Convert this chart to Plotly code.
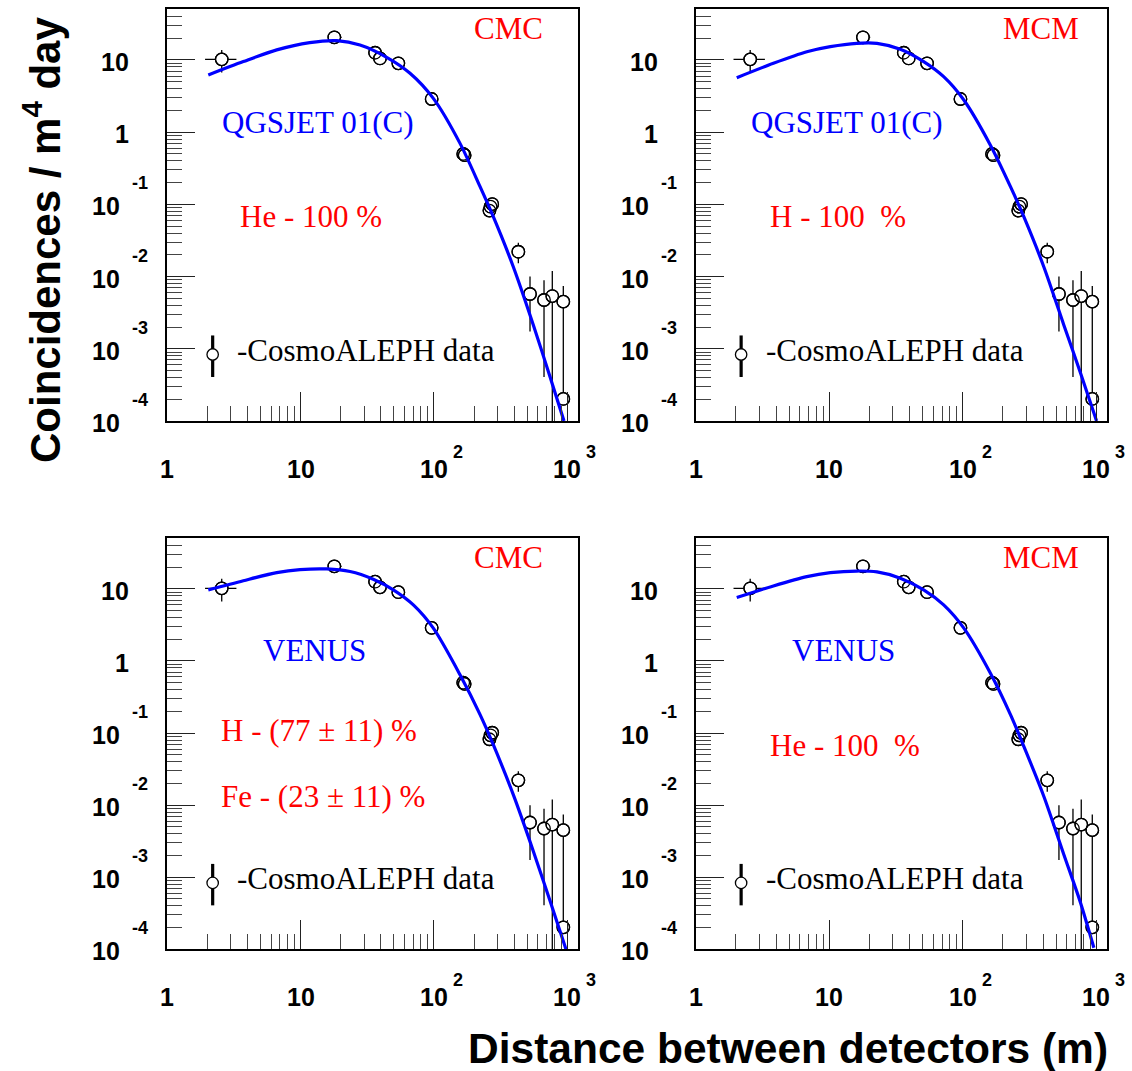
import math
import plotly.graph_objects as go

W, H = 1132, 1071

# ---------------- data (same CosmoALEPH points in every panel) ----------------
dist = [2.56, 17.9, 36.2, 39.4, 54.1, 96.2, 166, 170, 261, 266, 274, 430, 526, 670, 773, 935, 935]
dist_lo = [1.92, 16.1, 34.5, 39.4, 52.5, 96.2, 166, 170, 261, 266, 274, 430, 526, 670, 773, 935, 935]
dist_hi = [3.30, 20.3, 36.2, 39.4, 54.1, 96.2, 166, 170, 261, 266, 274, 430, 526, 670, 773, 935, 935]
rate = [10.2, 20.6, 12.6, 10.5, 9.0, 2.88, 0.50, 0.48, 0.082, 0.093, 0.101,
        0.0221, 0.00574, 0.00474, 0.00538, 0.0045, 2.02e-4]
rate_lo = [6.7, 19.6, 12.1, 10.1, 8.7, 2.78, 0.48, 0.46, 0.079, 0.090, 0.098,
           0.0153, 0.00173, 4.07e-4, 5e-5, 2.1e-4, 2.02e-4]
rate_hi = [13.8, 21.8, 13.1, 10.9, 9.3, 2.98, 0.52, 0.50, 0.085, 0.096, 0.104,
           0.0295, 0.0100, 0.0089, 0.0120, 0.0074, 2.02e-4]

# ---------------- simulated curves ----------------
qgs_cmc_x = [2.03, 3.72, 6.62, 11.7, 18.7, 27.9, 44.2, 66.2, 99, 157, 222, 279, 394, 557, 743, 946]
qgs_cmc_y = [6.2, 9.5, 13.8, 17.4, 18.5, 16.1, 10.9, 6.55, 2.94, 0.70, 0.176, 0.0676, 0.0137, 0.00214, 4.1e-4, 1.0e-4]

qgs_mcm_x = [2.03, 3.82, 6.8, 10.2, 16.1, 22.8, 34.1, 51, 72, 102, 161, 228, 287, 405, 572, 764, 1007]
qgs_mcm_y = [5.69, 9.0, 13.0, 15.3, 17.0, 17.0, 14.1, 9.5, 5.87, 2.79, 0.665, 0.176, 0.0676, 0.0137, 0.00214, 4.6e-4, 1.0e-4]

ven_cmc_x = [2.03, 3.72, 6.62, 9.9, 15.7, 23.5, 35.1, 49.6, 70.1, 99, 157, 222, 279, 394, 557, 743, 979]
ven_cmc_y = [9.7, 13.0, 16.8, 18.5, 18.9, 17.4, 13.6, 9.7, 6.0, 2.85, 0.644, 0.18, 0.069, 0.014, 0.0023, 4.7e-4, 1.0e-4]

ven_mcm_x = [2.03, 3.82, 6.8, 10.2, 16.1, 22.8, 34.1, 51, 72, 102, 161, 228, 287, 405, 572, 764, 961]
ven_mcm_y = [7.6, 11.0, 14.8, 16.8, 17.7, 17.2, 14.1, 9.7, 6.0, 2.85, 0.68, 0.18, 0.0655, 0.0133, 0.00207, 4.4e-4, 1.05e-4]

curves_x = [qgs_cmc_x, qgs_mcm_x, ven_cmc_x, ven_mcm_x]
curves_y = [qgs_cmc_y, qgs_mcm_y, ven_cmc_y, ven_mcm_y]

method_labels = ["CMC", "MCM", "CMC", "MCM"]
model_labels = ["QGSJET 01(C)", "QGSJET 01(C)", "VENUS", "VENUS"]
comp_labels = [["He - 100 %"], ["H - 100\u00a0\u00a0%"],
               ["H - (77 \u00b1 11) %", "Fe - (23 \u00b1 11) %"], ["He - 100\u00a0\u00a0%"]]
legend_label = "-CosmoALEPH data"

x_major = [1, 10, 100, 1000]
x_major_exp = [None, None, "2", "3"]
x_major_txt = ["1", "10", "10", "10"]
y_major = [1e-4, 1e-3, 1e-2, 1e-1, 1, 10]
y_major_txt = ["10", "10", "10", "10", "1", "10"]
y_major_exp = ["-4", "-3", "-2", "-1", None, None]

x_minor = [m * 10 ** d for d in range(0, 3) for m in range(2, 10)]
y_minor = [m * 10 ** d for d in range(-4, 2) for m in range(2, 10)]

# ---------------- layout geometry ----------------
col_dom = [[167.3 / W, 578.0 / W], [695.7 / W, 1107.0 / W]]
row_dom = [[1 - 421.0 / H, 1 - 9.3 / H], [1 - 949.3 / H, 1 - 538.3 / H]]
PW, PH = 411.0, 411.5

SERIF = "Liberation Serif, Times New Roman, serif"
SANS = "Liberation Sans, Arial, sans-serif"
RED = "#ff0000"
BLUE = "#0000ff"

fig = go.Figure()
annotations = []
shapes = []

for i in range(4):
    r, c = divmod(i, 2)
    sfx = "" if i == 0 else str(i + 1)
    xa, ya = "x" + sfx, "y" + sfx

    # data points: error bars + white filled circles
    fig.add_trace(go.Scatter(
        x=dist, y=rate, xaxis=xa, yaxis=ya, mode="markers", showlegend=False,
        marker=dict(symbol="circle", size=12.5, color="white", line=dict(color="black", width=1.3)),
        error_x=dict(type="data", symmetric=False,
                     array=[h - v for h, v in zip(dist_hi, dist)],
                     arrayminus=[v - l for v, l in zip(dist, dist_lo)],
                     color="black", thickness=1.3, width=0),
        error_y=dict(type="data", symmetric=False,
                     array=[h - v for h, v in zip(rate_hi, rate)],
                     arrayminus=[v - l for v, l in zip(rate, rate_lo)],
                     color="black", thickness=1.3, width=0),
    ))
    # open circle outlines on top (so overlapping circles stay visible)
    fig.add_trace(go.Scatter(
        x=dist, y=rate, xaxis=xa, yaxis=ya, mode="markers", showlegend=False,
        marker=dict(symbol="circle-open", size=12.5, color="black", line=dict(color="black", width=1.3)),
    ))
    # simulation curve
    fig.add_trace(go.Scatter(
        x=curves_x[i], y=curves_y[i], xaxis=xa, yaxis=ya, mode="lines", showlegend=False,
        line=dict(color=BLUE, width=3.2, shape="spline", smoothing=0.8),
    ))

    axis_common = dict(type="log", showgrid=False, zeroline=False, showline=True, linecolor="black",
                       linewidth=2, mirror=True, ticks="inside", tickcolor="#222", tickwidth=1.3,
                       showticklabels=False)
    fig.layout["xaxis" + sfx] = dict(axis_common, domain=col_dom[c], range=[0, 3.081], anchor=ya,
                                     tickmode="array", tickvals=x_major, ticklen=29,
                                     minor=dict(ticks="inside", tickmode="array", tickvals=x_minor,
                                                ticklen=15, tickcolor="#444", tickwidth=1.3))
    fig.layout["yaxis" + sfx] = dict(axis_common, domain=row_dom[r], range=[-4, 1.702], anchor=xa,
                                     tickmode="array", tickvals=y_major, ticklen=28,
                                     minor=dict(ticks="inside", tickmode="array", tickvals=y_minor,
                                                ticklen=15, tickcolor="#444", tickwidth=1.3))

    xd, yd = xa + " domain", ya + " domain"

    # tick labels (ROOT style 10 + exponent)
    for v, t, e in zip(y_major, y_major_txt, y_major_exp):
        if e is None:
            annotations.append(dict(xref=xd, yref=ya, x=0, y=math.log10(v), text=t, showarrow=False,
                                    xanchor="right", yanchor="middle", xshift=-36, yshift=-2,
                                    font=dict(family=SANS, size=25, color="black", weight="bold")))
        else:
            annotations.append(dict(xref=xd, yref=ya, x=0, y=math.log10(v), text=t, showarrow=False,
                                    xanchor="right", yanchor="middle", xshift=-45, yshift=-2,
                                    font=dict(family=SANS, size=25, color="black", weight="bold")))
            annotations.append(dict(xref=xd, yref=ya, x=0, y=math.log10(v), text=e, showarrow=False,
                                    xanchor="left", yanchor="middle", xshift=-37, yshift=21,
                                    font=dict(family=SANS, size=18, color="black", weight="bold")))
    for v, t, e in zip(x_major, x_major_txt, x_major_exp):
        annotations.append(dict(xref=xa, yref=yd, x=math.log10(v), y=0, text=t, showarrow=False,
                                xanchor="center", yanchor="middle", yshift=-48,
                                font=dict(family=SANS, size=25, color="black", weight="bold")))
        if e is not None:
            annotations.append(dict(xref=xa, yref=yd, x=math.log10(v), y=0, text=e, showarrow=False,
                                    xanchor="left", yanchor="middle", xshift=17, yshift=-31,
                                    font=dict(family=SANS, size=18, color="black", weight="bold")))

    # panel texts
    def tx(rx, ry, text, color, anchor="left"):
        annotations.append(dict(xref=xd, yref=yd, x=rx / PW, y=1 - ry / PH, text=text, showarrow=False,
                                xanchor=anchor, yanchor="middle",
                                font=dict(family=SERIF, size=31, color=color)))

    tx(305, 19, method_labels[i], RED)
    if i < 2:
        tx(53, 113, model_labels[i], BLUE)
    else:
        tx(94, 112, model_labels[i], BLUE)
    if i == 2:
        tx(52, 192, comp_labels[i][0], RED)
        tx(52, 259, comp_labels[i][1], RED)
    elif i == 0:
        tx(71, 207, comp_labels[i][0], RED)
    else:
        tx(72, 207, comp_labels[i][0], RED)
    tx(68, 341, legend_label, "black")

    # legend glyph
    cx, cy = 45.4, 345.0
    shapes.append(dict(type="line", xref=xd, yref=yd, x0=cx / PW, x1=cx / PW,
                       y0=1 - 326 / PH, y1=1 - 367.5 / PH, line=dict(color="black", width=3.2)))
    shapes.append(dict(type="circle", xref=xd, yref=yd, x0=(cx - 5.7) / PW, x1=(cx + 5.7) / PW,
                       y0=1 - (cy - 5.7) / PH, y1=1 - (cy + 5.7) / PH,
                       fillcolor="white", line=dict(color="black", width=1.3)))

# axis titles
annotations.append(dict(xref="paper", yref="paper", x=42 / W, y=1 - 240 / H,
                        text="Coincidences / m<sup>4</sup> day", textangle=-90, showarrow=False,
                        xanchor="center", yanchor="middle",
                        font=dict(family=SANS, size=42, color="black", weight="bold")))
annotations.append(dict(xref="paper", yref="paper", x=1109 / W, y=1 - 1048 / H,
                        text="Distance between detectors (m)", showarrow=False, borderpad=0,
                        xanchor="right", yanchor="middle",
                        font=dict(family=SANS, size=42.5, color="black", weight="bold")))

fig.update_layout(width=W, height=H, margin=dict(l=0, r=0, t=0, b=0),
                  paper_bgcolor="white", plot_bgcolor="white",
                  annotations=annotations, shapes=shapes, showlegend=False)

fig.write_html("out.html")
